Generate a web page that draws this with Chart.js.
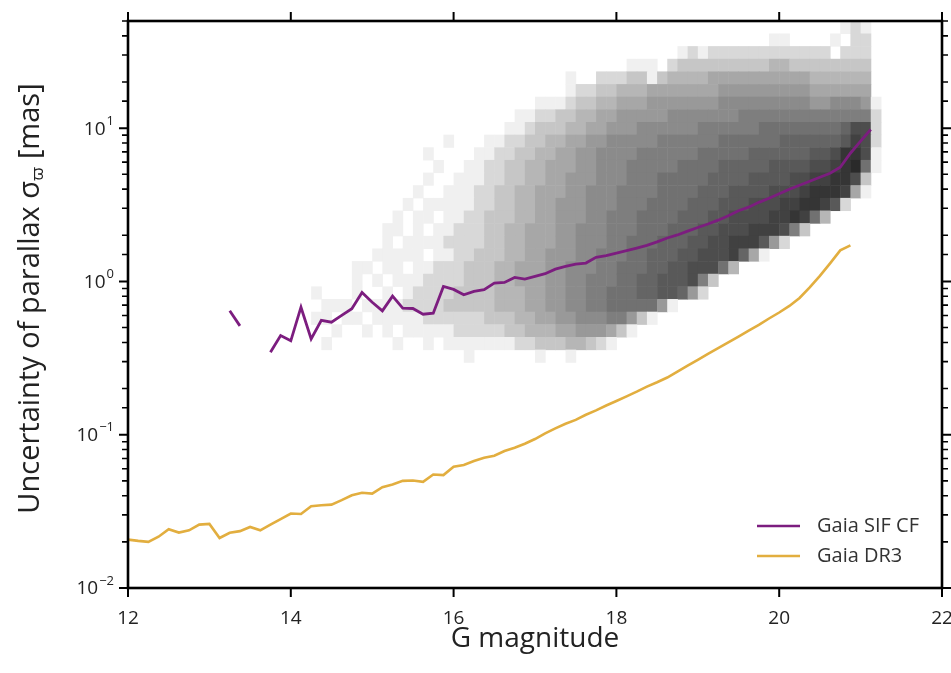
<!DOCTYPE html>
<html>
<head>
<meta charset="utf-8">
<script src="https://cdn.jsdelivr.net/npm/chart.js@4.4.1/dist/chart.umd.min.js"></script>
<style>
  html, body { margin: 0; padding: 0; background: #fff; }
</style>
</head>
<body>
<canvas id="chart" width="951" height="673"></canvas>
<script>
// Gaia DR3 parallax uncertainty vs G
const dr3Mag = [12.0, 12.125, 12.25, 12.375, 12.5, 12.625, 12.75, 12.875, 13.0, 13.125, 13.25, 13.375, 13.5, 13.625, 13.75, 13.875,
  14.0, 14.125, 14.25, 14.375, 14.5, 14.625, 14.75, 14.875, 15.0, 15.125, 15.25, 15.375, 15.5, 15.625, 15.75, 15.875,
  16.0, 16.125, 16.25, 16.375, 16.5, 16.625, 16.75, 16.875, 17.0, 17.125, 17.25, 17.375, 17.5, 17.625, 17.75, 17.875,
  18.0, 18.125, 18.25, 18.375, 18.5, 18.625, 18.75, 18.875, 19.0, 19.125, 19.25, 19.375, 19.5, 19.625, 19.75, 19.875,
  20.0, 20.125, 20.25, 20.375, 20.5, 20.625, 20.75, 20.875];
const dr3Err = [0.0207, 0.0203, 0.0200, 0.0216, 0.0242, 0.0230, 0.0238, 0.0259, 0.0262, 0.0212, 0.0229, 0.0235, 0.0250, 0.0238, 0.0259, 0.0281,
  0.0306, 0.0304, 0.0342, 0.0347, 0.0350, 0.0374, 0.0403, 0.0418, 0.0413, 0.0455, 0.0473, 0.0500, 0.0503, 0.0493, 0.0550, 0.0545,
  0.0618, 0.0634, 0.0673, 0.0708, 0.0729, 0.0782, 0.0822, 0.0873, 0.0937, 0.102, 0.110, 0.118, 0.125, 0.135, 0.144, 0.155,
  0.166, 0.178, 0.191, 0.206, 0.220, 0.236, 0.258, 0.282, 0.308, 0.337, 0.367, 0.400, 0.437, 0.478, 0.520, 0.573,
  0.627, 0.692, 0.780, 0.914, 1.086, 1.311, 1.594, 1.719];

// Gaia SIF CF parallax uncertainty (median per bin), null = empty bin
const sifMag = [13.25, 13.375, 13.5, 13.625, 13.75, 13.875, 14.0, 14.125, 14.25, 14.375, 14.5, 14.625, 14.75, 14.875, 15.0, 15.125,
  15.25, 15.375, 15.5, 15.625, 15.75, 15.875, 16.0, 16.125, 16.25, 16.375, 16.5, 16.625, 16.75, 16.875, 17.0, 17.125,
  17.25, 17.375, 17.5, 17.625, 17.75, 17.875, 18.0, 18.125, 18.25, 18.375, 18.5, 18.625, 18.75, 18.875, 19.0, 19.125,
  19.25, 19.375, 19.5, 19.625, 19.75, 19.875, 20.0, 20.125, 20.25, 20.375, 20.5, 20.625, 20.75, 20.875, 21.0, 21.125];
const sifErr = [0.643, 0.513, null, null, 0.345, 0.444, 0.410, 0.679, 0.422, 0.558, 0.542, 0.600, 0.663, 0.847, 0.732, 0.643,
  0.802, 0.669, 0.666, 0.611, 0.621, 0.928, 0.887, 0.819, 0.861, 0.883, 0.975, 0.985, 1.062, 1.035, 1.078, 1.123,
  1.203, 1.253, 1.297, 1.318, 1.435, 1.472, 1.531, 1.588, 1.651, 1.72, 1.81, 1.92, 2.01, 2.13, 2.25, 2.37,
  2.51, 2.68, 2.89, 3.05, 3.28, 3.49, 3.73, 3.99, 4.24, 4.50, 4.78, 5.08, 5.56, 6.86, 8.22, 9.80];

// 2D histogram of the SIF CF sample: bins start at G=13.0 (0.125 mag wide),
// rows start at log10(sigma)=1.70 going down in 0.0825 dex steps.
// one hex digit per cell = density level (0 empty .. f densest)
const histMagStart = 13.0;
const histMagStep = 0.125;
const histLogTop = 1.70;
const histLogStep = 0.0825;
const histRows = [
  '0000000000 0000000000 0000000000 0000000000 0000000000 0000000000 001210',
  '0000000000 0000000000 0000000000 0000000000 0000000000 0000011000 010220',
  '0000000000 0000000000 0000000000 0000000000 0000001212 2222222222 202220',
  '0000000000 0000000000 0000000000 0000000000 0111023333 3333344333 333330',
  '0000000000 0000000000 0000000000 0000010022 2331344445 5555555554 444440',
  '0000000000 0000000000 0000000000 0000012233 4445555555 6666666665 555550',
  '0000000000 0000000000 0000000000 0011123344 5556666666 7777777776 677761',
  '0000000000 0000000000 0000000000 1122334455 6666677777 7788888888 888882',
  '0000000000 0000000000 0000000001 1233344556 6677777788 8888999999 99acc2',
  '0000000000 0000000000 0001000112 2334455667 7777888888 999999aaaa aabdc2',
  '0000000000 0000000000 0100001122 3344556677 7788888899 999aaaaaab bceec1',
  '0000000000 0000000000 0010011223 3445556677 7888889999 aaaaabbbbc cdef91',
  '0000000000 0000000000 0100111223 3445566677 788899999a aaabbbbccd deec30',
  '0000000000 0000000000 1001112233 4455566777 88889999aa abbbbcccde eed510',
  '0000000000 0000000001 0111112233 4455666777 8889999aaa bbbcccddee db2000',
  '0000000000 0000000010 1101122333 4455666778 889999aaab bccccdded9 400000',
  '0000000000 0000000110 1011222334 4555667778 88999aaabb cccdddc830 000000',
  '0000000000 0000000101 1112222334 4555667778 8999aaabbc cdddb62000 000000',
  '0000000000 0000001111 1011223334 4556667788 899aaabbcc cda5100000 000000',
  '0000000000 0000110110 1122233344 5556677788 999aabbccc 9400000000 000000',
  '0000000000 0000101011 1222233344 5556677888 99aabbbc83 0000000000 000000',
  '0000000000 1000100101 2222333344 4556677889 99aabba620 0000000000 000000',
  '0000000000 0111011112 2223333344 4556677889 9999610000 0000000000 000000',
  '0000000000 1101101111 1222222333 4455667778 8631000000 0000000000 000000',
  '0000000000 0010010101 1111222223 3444556665 3100000000 0000000000 000000',
  '0000000000 0100000010 0101111111 2233344321 0000000000 0000000000 000000',
  '0000000000 0000000000 0000010000 0010010000 0000000000 0000000000 000000'
];

const xTickValues = [12, 14, 16, 18, 20, 22];
const yLabelPowers = [-2, -1, 0, 1];

const FONT = '"Open Sans", Lato, sans-serif';
const TEXT = '#222';
const levelGray = L => Math.round(240 - 198 * Math.pow((L - 1) / 14, 0.8));

const histPlugin = {
  id: 'hist',
  beforeDatasetsDraw(chart) {
    const { ctx, chartArea, scales: { x, y } } = chart;
    ctx.save();
    ctx.beginPath();
    ctx.rect(chartArea.left, chartArea.top, chartArea.width, chartArea.height);
    ctx.clip();
    histRows.forEach((row, r) => {
      const cells = row.replace(/ /g, '');
      const y0 = y.getPixelForValue(Math.pow(10, histLogTop - r * histLogStep));
      const y1 = y.getPixelForValue(Math.pow(10, histLogTop - (r + 1) * histLogStep));
      for (let c = 0; c < cells.length; c++) {
        const L = parseInt(cells[c], 16);
        if (!L) continue;
        const x0 = x.getPixelForValue(histMagStart + c * histMagStep);
        const x1 = x.getPixelForValue(histMagStart + (c + 1) * histMagStep);
        const g = levelGray(L);
        ctx.fillStyle = `rgb(${g},${g},${g})`;
        ctx.fillRect(x0, y0, x1 - x0 + 0.5, y1 - y0 + 0.5);
      }
    });
    ctx.restore();
  }
};

// frame, ticks on all four sides, y labels with exponents, y title, legend
const framePlugin = {
  id: 'frame',
  afterDraw(chart) {
    const { ctx, chartArea: a, scales: { x, y } } = chart;
    ctx.save();
    ctx.strokeStyle = '#000';
    ctx.lineCap = 'butt';

    ctx.lineWidth = 2;
    xTickValues.forEach(v => {
      const px = x.getPixelForValue(v);
      ctx.beginPath();
      ctx.moveTo(px, a.bottom); ctx.lineTo(px, a.bottom + 9);
      ctx.moveTo(px, a.top); ctx.lineTo(px, a.top - 9);
      ctx.stroke();
    });
    y.ticks.forEach(t => {
      const e = Math.log10(t.value);
      const major = Math.abs(e - Math.round(e)) < 1e-6;
      const len = major ? 9 : 6;
      ctx.lineWidth = major ? 2 : 1.6;
      const py = y.getPixelForValue(t.value);
      ctx.beginPath();
      ctx.moveTo(a.left, py); ctx.lineTo(a.left - len, py);
      ctx.moveTo(a.right, py); ctx.lineTo(a.right + len, py);
      ctx.stroke();
    });

    ctx.lineWidth = 2.6;
    ctx.strokeRect(a.left, a.top, a.right - a.left, a.bottom - a.top);

    // y tick labels 10^n
    ctx.fillStyle = TEXT;
    ctx.textBaseline = 'middle';
    ctx.textAlign = 'left';
    yLabelPowers.forEach(p => {
      const py = y.getPixelForValue(Math.pow(10, p));
      const exp = p < 0 ? '\u2212' + Math.abs(p) : String(p);
      ctx.font = `13px ${FONT}`;
      const we = ctx.measureText(exp).width;
      ctx.font = `19px ${FONT}`;
      const wb = ctx.measureText('10').width;
      const right = a.left - 14;
      ctx.fillText('10', right - we - wb - 1, py + 1);
      ctx.font = `13px ${FONT}`;
      ctx.fillText(exp, right - we, py - 7);
    });

    // y axis title with subscript
    const parts = [
      { t: 'Uncertainty of parallax \u03c3', size: 29, dy: 0 },
      { t: '\u03d6', size: 17, dy: 7 },
      { t: ' [mas]', size: 29, dy: 0 }
    ];
    let total = 0;
    parts.forEach(p => { ctx.font = `${p.size}px ${FONT}`; p.w = ctx.measureText(p.t).width; total += p.w; });
    ctx.translate(31, (a.top + a.bottom) / 2 - 6);
    ctx.rotate(-Math.PI / 2);
    let cx = -total / 2;
    parts.forEach(p => {
      ctx.font = `${p.size}px ${FONT}`;
      ctx.fillText(p.t, cx, p.dy);
      cx += p.w;
    });
    ctx.restore();

    // legend, bottom right inside the axes
    ctx.save();
    ctx.font = `20px ${FONT}`;
    ctx.textBaseline = 'middle';
    ctx.textAlign = 'left';
    chart.data.datasets.forEach((ds, i) => {
      const ly = a.bottom - 62 + i * 30;
      ctx.strokeStyle = ds.borderColor;
      ctx.lineWidth = 2.6;
      ctx.beginPath();
      ctx.moveTo(a.right - 185, ly); ctx.lineTo(a.right - 142, ly);
      ctx.stroke();
      ctx.fillStyle = '#333';
      ctx.fillText(ds.label, a.right - 125, ly);
    });
    ctx.restore();
  }
};

new Chart(document.getElementById('chart'), {
  type: 'line',
  data: {
    datasets: [
      {
        label: 'Gaia SIF CF',
        data: sifMag.map((m, i) => ({ x: m, y: sifErr[i] })),
        borderColor: '#7c1d7f',
        borderWidth: 2.8,
        pointRadius: 0,
        spanGaps: false,
        tension: 0
      },
      {
        label: 'Gaia DR3',
        data: dr3Mag.map((m, i) => ({ x: m, y: dr3Err[i] })),
        borderColor: '#e2ae3f',
        borderWidth: 2.6,
        pointRadius: 0,
        tension: 0
      }
    ]
  },
  options: {
    responsive: false,
    animation: false,
    devicePixelRatio: 1,
    layout: { padding: { top: 21, right: 9, left: 0, bottom: 0 } },
    scales: {
      x: {
        type: 'linear',
        min: 12,
        max: 22,
        afterFit: s => { s.height = 85; s.paddingLeft = 0; s.paddingRight = 0; },
        ticks: { stepSize: 2, font: { family: FONT, size: 19 }, color: TEXT, padding: 9 },
        grid: { display: false, drawTicks: true, tickLength: 10 },
        border: { display: false },
        title: {
          display: true,
          text: 'G magnitude',
          font: { family: FONT, size: 28 },
          color: TEXT,
          padding: { top: 0, bottom: 17 }
        }
      },
      y: {
        type: 'logarithmic',
        min: 0.01,
        max: 50,
        afterFit: s => { s.width = 128; s.paddingTop = 0; s.paddingBottom = 0; },
        ticks: { display: false, autoSkip: false },
        grid: { display: false, drawTicks: true, tickLength: 10 },
        border: { display: false }
      }
    },
    plugins: {
      legend: { display: false },
      tooltip: { enabled: false }
    }
  },
  plugins: [histPlugin, framePlugin]
});
</script>
</body>
</html>
